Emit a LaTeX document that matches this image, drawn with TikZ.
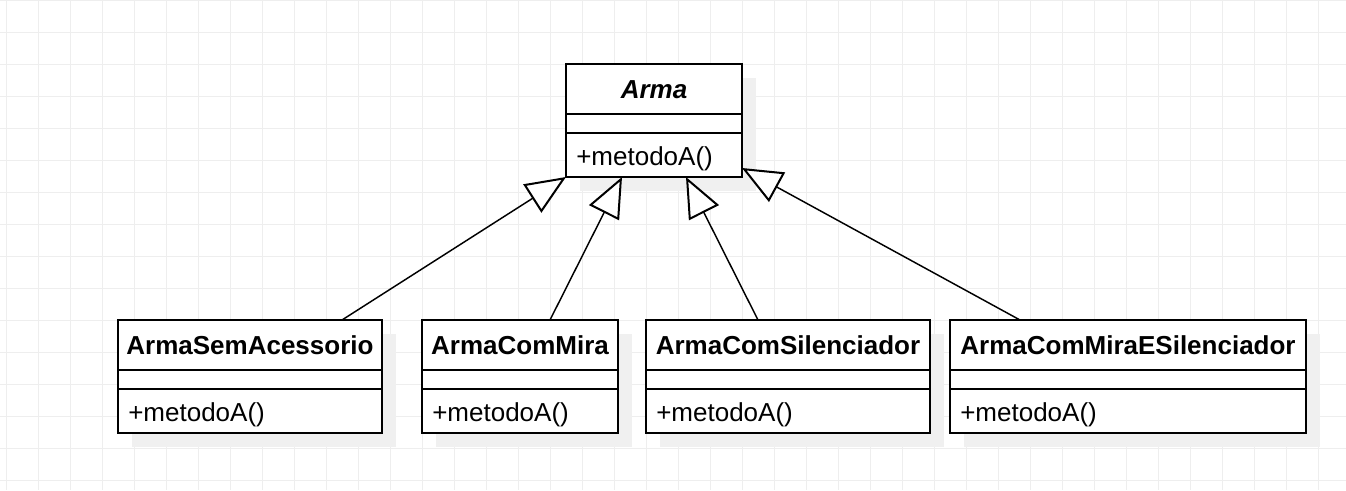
\documentclass[tikz,border=0pt]{standalone}
\usepackage{fontspec}
\setmainfont{Liberation Sans}
\usetikzlibrary{arrows.meta,calc,fit,shadows}
\definecolor{gridc}{HTML}{EEEEEE}
\definecolor{shadowc}{HTML}{F0F0F0}
\tikzset{
  classbox/.style={draw=black, line width=1.5pt, fill=white, inner sep=0pt, outer sep=0pt,
    drop shadow={shadow xshift=10.5pt, shadow yshift=-10.5pt, fill=shadowc, opacity=1}},
  sepline/.style={line width=1.5pt},
  classtitle/.style={anchor=base, inner sep=0pt, font=\fontsize{19.5}{23}\selectfont\bfseries},
  classmeth/.style={anchor=base west, inner sep=0pt, font=\fontsize{19.5}{23}\selectfont},
  inh/.style={line width=1.1pt, -{Triangle[open, fill=white, length=30pt, width=25pt, line width=1.5pt]}}
}
\newcommand\umlclass[5]{%
  \node[classbox, fit={(#2,#4) (#3,#4+113)}] (#1) {};
  \draw[sepline] ($(#1.north west)+(0,50)$) -- ($(#1.north east)+(0,50)$);
  \draw[sepline] ($(#1.north west)+(0,69)$) -- ($(#1.north east)+(0,69)$);
  \node[classtitle] (#1-t) at ($(#1.north)+(0,34)$) {#5};
  \node[classmeth] (#1-m) at ($(#1.north west)+(10,101)$) {+metodoA()};
}
\begin{document}
\begin{tikzpicture}[x=0.75pt,y=-0.75pt]
  \useasboundingbox (0,0) rectangle (1346,490);
  \fill[white] (0,0) rectangle (1346,490);
  \foreach \x in {6,38,...,1346} \draw[gridc, line width=0.75pt] (\x,0) -- (\x,490);
  \foreach \y in {0,32,...,490} \draw[gridc, line width=0.75pt] (0,\y) -- (1346,\y);

  \umlclass{arma}{566}{742}{64}{\itshape Arma}
  \umlclass{sem}{118}{382}{320}{ArmaSemAcessorio}
  \umlclass{mira}{422}{618}{320}{ArmaComMira}
  \umlclass{sil}{646}{930}{320}{ArmaComSilenciador}
  \umlclass{mes}{950}{1306}{320}{ArmaComMiraESilenciador}

  \draw[inh] ($(sem.north west)+(224,0)$) -- (arma.south west);
  \draw[inh] ($(mira.north west)+(128,0)$) -- ($(arma.south west)+(56,0)$);
  \draw[inh] ($(sil.north west)+(112,0)$) -- ($(arma.south west)+(120,0)$);
  \draw[inh] ($(mes.north west)+(70,0)$) -- ($(arma.south east)+(0,-9)$);
\end{tikzpicture}
\end{document}
